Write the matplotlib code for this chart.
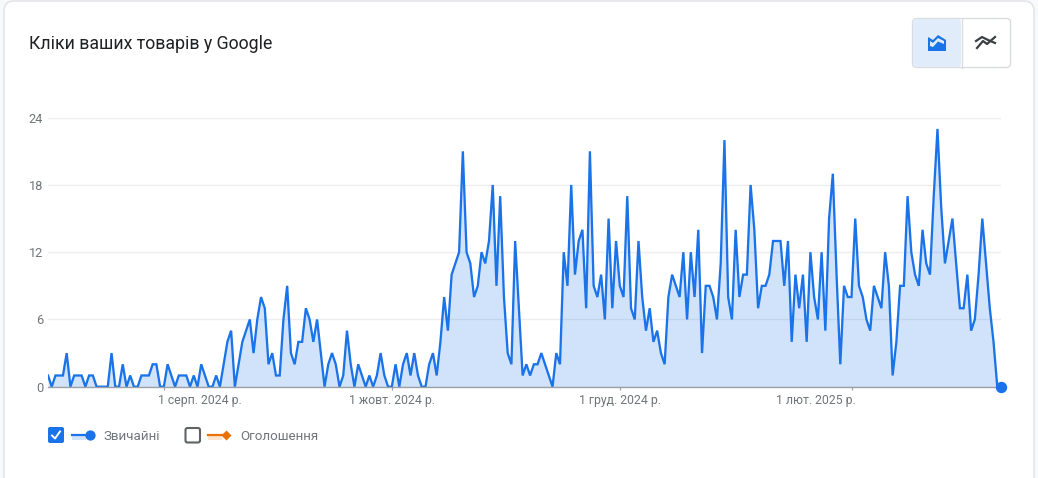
import matplotlib
matplotlib.use("Agg")
import matplotlib.pyplot as plt
from matplotlib.patches import FancyBboxPatch, Rectangle, Polygon
from matplotlib.transforms import ScaledTranslation
import pandas as pd

START_DATE = "2024-07-01"
clicks = [
    1,0,1,1,1,3,0,1,1,1,0,1,1,0,0,0,0,3,0,0,2,0,1,0,0,1,1,1,2,2,
    0,0,2,1,0,1,1,1,0,1,0,2,1,0,0,1,0,2,4,5,0,2,4,5,6,3,6,8,7,2,
    3,1,1,6,9,3,2,4,4,7,6,4,6,3,0,2,3,2,0,1,5,2,0,2,1,0,1,0,1,3,
    1,0,0,2,0,2,3,1,3,1,0,0,2,3,1,4,8,5,10,11,12,21,12,11,8,9,12,11,13,18,
    9,17,8,3,2,13,7,1,2,1,2,2,3,2,1,0,3,2,12,9,18,10,13,14,7,21,9,8,10,6,
    15,7,13,9,8,17,7,6,13,8,5,7,4,5,3,2,8,10,9,8,12,6,12,8,14,3,9,9,8,6,
    11,22,8,6,14,8,10,10,18,14,7,9,9,10,13,13,13,9,13,4,10,7,10,4,12,8,6,12,5,15,
    19,10,2,9,8,8,15,9,8,6,5,9,8,7,12,9,1,4,9,9,17,12,10,9,14,11,10,17,23,16,
    11,13,15,11,7,7,10,5,6,10,15,11,7,4,0,0,
]
dates = pd.date_range(START_DATE, periods=len(clicks))
y_ticks = [0, 6, 12, 18, 24]
x_tick_dates = ["2024-08-01", "2024-10-01", "2024-12-01", "2025-02-01"]
x_tick_labels = ["1 серп. 2024 р.", "1 жовт. 2024 р.", "1 груд. 2024 р.", "1 лют. 2025 р."]
title = "Кліки ваших товарів у Google"
legend_labels = ["Звичайні", "Оголошення"]

BLUE = "#1a73e8"
FILL = "#d0e2f9"
ORANGE = "#e8710a"
GREY = "#70757a"
W, H = 1038, 478

plt.rcParams["font.family"] = ["Roboto", "DejaVu Sans"]
fig = plt.figure(figsize=(W / 100, H / 100), dpi=100, facecolor="#f8f9fa")

# page layer in pixel coordinates
bg = fig.add_axes([0, 0, 1, 1], zorder=0)
bg.set_xlim(0, W)
bg.set_ylim(H, 0)
bg.axis("off")
bg.add_patch(FancyBboxPatch((4, 1), 1030, 520, boxstyle="round,pad=0,rounding_size=10",
                            fc="white", ec="#e3e5e8", lw=1.2))
bg.text(29, 43.5, title, fontsize=12.75, color="#202124", va="center", ha="left")

# toggle buttons
bg.add_patch(FancyBboxPatch((912.5, 18.5), 98, 49, boxstyle="round,pad=0,rounding_size=4",
                            fc="white", ec="#dadce0", lw=1))
bg.add_patch(FancyBboxPatch((913, 19), 48, 48, boxstyle="round,pad=0,rounding_size=3",
                            fc="#e1ecfb", ec="none"))
bg.plot([961.5, 961.5], [18.5, 67.5], color="#dadce0", lw=1)
bg.add_patch(Polygon([(928, 37), (933, 40), (938, 35), (946, 40), (946, 51), (928, 51)],
                     fc=BLUE, ec="none"))
bg.add_patch(Polygon([(930, 41), (933, 43), (938, 38), (944, 41), (944, 44), (938, 41.5), (933, 47), (930, 46)],
                     fc="#e1ecfb", ec="none"))
bg.plot([977, 983, 987, 995], [48, 41, 44, 37], color="#3c4043", lw=1.6)
bg.plot([976, 982, 988, 995], [41, 37, 40, 43], color="#3c4043", lw=1.6)

# chart
L, R, T, B = 48, 1001, 117.7, 386.7
ax = fig.add_axes([L / W, 1 - B / H, (R - L) / W, (B - T) / H], zorder=1)
ax.patch.set_alpha(0)
ax.set_xlim(dates[0], dates[-1])
ax.set_ylim(0, 24)
ax.grid(axis="y", color="#eceef0", lw=1, zorder=1)
ax.set_axisbelow(True)
ax.fill_between(dates, clicks, 0, color=BLUE, alpha=0.2, lw=0, zorder=2)
ax.plot(dates, clicks, color=BLUE, lw=1.65, zorder=3, solid_joinstyle="miter")
ax.plot(dates[-1], clicks[-1], "o", ms=8.2, color=BLUE, mec="none", clip_on=False, zorder=5)
ax.set_yticks(y_ticks)
ax.set_xticks(pd.to_datetime(x_tick_dates))
ax.set_xticklabels(x_tick_labels)
for s in ["top", "right", "left"]:
    ax.spines[s].set_visible(False)
ax.spines["bottom"].set_color("#9aa0a6")
ax.spines["bottom"].set_linewidth(1)
ax.spines["bottom"].set_zorder(4)
ax.tick_params(axis="y", length=0, pad=3.4, labelsize=9.2, labelcolor=GREY)
ax.tick_params(axis="x", length=2.5, width=0.8, color="#9aa0a6", pad=2.5, labelsize=8.8, labelcolor=GREY)
# the first and last date labels stay inside their neighbours' columns, as in the source
labels = ax.get_xticklabels()
labels[0].set_ha("left")
labels[0].set_transform(labels[0].get_transform() + ScaledTranslation(-6 / 100, 0, fig.dpi_scale_trans))
labels[3].set_ha("right")
labels[3].set_transform(labels[3].get_transform() + ScaledTranslation(4 / 100, 0, fig.dpi_scale_trans))

# legend
bg.add_patch(FancyBboxPatch((48, 427), 16, 16, boxstyle="round,pad=0,rounding_size=2", fc=BLUE, ec="none"))
bg.plot([52, 55, 60], [435.5, 438.5, 431.5], color="white", lw=1.4)
bg.add_patch(Rectangle((72, 436), 14, 4, fc=FILL, ec="none"))
bg.plot([72, 90], [435, 435], color=BLUE, lw=1.6)
bg.plot([90], [435], "o", ms=7.4, color=BLUE, mec="none")
bg.text(103, 436.5, legend_labels[0], fontsize=9.6, color=GREY, va="center", ha="left")
bg.add_patch(FancyBboxPatch((185.5, 428), 14.5, 14.5, boxstyle="round,pad=0,rounding_size=2",
                            fc="white", ec="#5f6368", lw=1.5))
bg.add_patch(Rectangle((208, 436), 14, 4, fc="#fbe3ce", ec="none"))
bg.plot([208, 226], [435, 435], color=ORANGE, lw=1.6)
bg.plot([226], [435], "D", ms=5.4, color=ORANGE, mec="none")
bg.text(240, 436.5, legend_labels[1], fontsize=9.6, color=GREY, va="center", ha="left")

fig.savefig("out.png", dpi=100, facecolor=fig.get_facecolor())
